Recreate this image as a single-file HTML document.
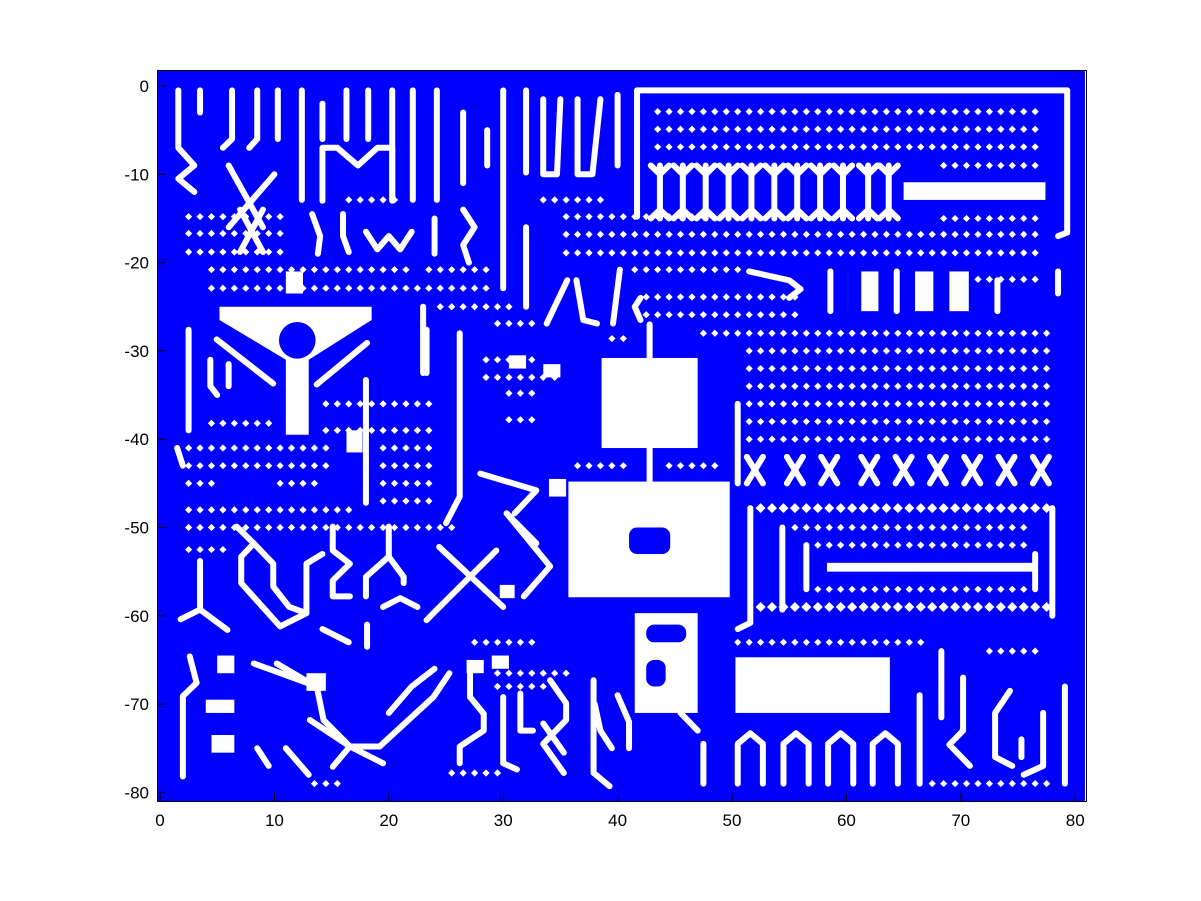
<!DOCTYPE html>
<html><head><meta charset="utf-8"><style>
html,body{margin:0;padding:0;background:#fff;}
svg{display:block;font-family:"Liberation Sans",Arial,sans-serif;}
</style></head><body>
<svg id="chart" width="1201" height="901" viewBox="0 0 1201 901" xmlns="http://www.w3.org/2000/svg">
<rect x="0" y="0" width="1201" height="901" fill="#fff"/>
<g id="plot"></g>
<g id="axes"></g>
</svg>
<script>
// ---- data (grid units: x, depth d where y = -d) ----
const xTicks = [0,10,20,30,40,50,60,70,80];
const yTicks = [0,-10,-20,-30,-40,-50,-60,-70,-80];
const whiteRects = [[38.6,47,30.8,41],[35.7,49.8,44.8,57.9],[50.3,63.8,64.7,71],[65,77.4,10.9,12.9],[58.3,76.3,54,55],
 [41.5,47,59.7,71],[61.3,62.8,21,25.5],[66,67.6,21,25.5],[69,70.7,21,25.5],
 [5,6.5,64.5,66.5],[4,6.5,69.5,71],[4.5,6.5,73.5,75.5],[29,30.5,64.5,66],[16.3,17.7,39,41.5],[33.5,35,31.5,33],
 [30.5,32,30.5,32],[12.8,14.5,66.5,68.5],[26.8,28.3,65,66.5],[29.7,31,56.5,58],[34,35.5,44.5,46.5],[11,12.5,21,23.5]];
const blueHoles = [[41,44.6,50,53],[42.5,46,61,63],[42.5,44.2,65,68]];
const yShape = [[5.2,25],[18.5,25],[18.5,26.5],[13,31],[13,39.5],[11,39.5],[11,31],[5.2,26.5]];
const yHole = [12,28.8,1.6];
const dotRows = [[2.9,43,77],[4.9,43,77],[6.9,43,77],[9,68,77],[15,68,77],[16.8,35,77],[18.9,35,77],[20.8,41,51],[20.8,22.7,28.6],
 [21.9,71,77],[23.9,42,56],[25.9,42,56],[28,47,78],[30,51,78],[32,51,78],[34,51,78],[36,51,78],[38,51,78],[40,51,78],
 [43,44,49],[43,36,40.5],[50,55,76],[52,57,76],[57,57,76],[63,50,66.7],[64,72,77],[79,67,78],
 [12.9,15.7,21],[14.8,2,11],[16.7,2,11],[18.8,2,11],[20.8,4,22],[22.9,4,29.4],[25,23.6,31.2],[12.9,33.2,38.5],[14.8,35,48],
 [26.9,29.4,32.6],[28.6,39.3,41.4],[31,28,33],[33,28,35],[34.8,30,32.5],[37.8,30,33],[36,14,24],[39,13.7,23.8],
 [41,2,15],[43,2,15],[45,2,5],[45,10,14],[41,19.5,23.8],[43,19.5,23.8],[45,19.5,23.8],[47,19.5,23.8],[48,2,17],[50,2,26],
 [52.5,2,6],[63,27,33],[77.8,25,30],[68,29,34],[66.5,29,36],[79,13,16],[38.2,4.4,9.6]];
const bigDotRows = [[47.8,52,78],[59,52,78]];
const barXs = [43.7,45.7,47.7,49.7,51.7,53.7,55.7,57.7,59.7,61.9,63.7];
const bowtieXs = [52,55.5,58.5,62,65,68,71,74,77];
const archXs = [50.5,54.5,58.4,62.3];
const paths = [
 [[1.6,0.5],[1.6,7],[3,9],[1.6,10.5],[3,12]],[[3.5,0.5],[3.5,3]],[[6.3,0.5],[6.3,6],[5.5,7]],[[8.5,0.5],[8.5,6],[7.8,7]],
 [[10.3,0.5],[10.3,6]],[[12.4,0.5],[12.4,12.9]],[[14.2,2],[14.2,6]],[[16.3,0.5],[16.3,6]],[[18.2,0.5],[18.2,6]],
 [[20.3,0.5],[20.3,12.9]],[[22.1,0.5],[22.1,12.9]],[[24.2,0.5],[24.2,12.9]],[[26.5,3],[26.5,11]],[[30,0.5],[30,22.9]],
 [[32,0.5],[32,9.8]],[[33.5,1.5],[33.5,10],[34.7,10],[35,1.5]],[[36.5,1.5],[36.5,10],[37.8,10],[38.5,1.5]],[[40,1],[40,9]],
 [[14.2,13],[14.2,7],[15.5,7],[17.3,9],[19,7],[20.3,7],[20.3,13]],
 [[6,9],[9,16]],[[10,10],[6,16]],[[7,14],[9,18.8]],[[9,14],[7,18.8]],[[13.3,14.5],[14,17],[13.8,19]],[[16,14.5],[16,17],[16.5,18.8]],
 [[18,16.5],[19,18.5],[20,17],[21,18.5],[22,16.5]],[[24,15],[24,19]],[[26.5,14],[27.5,16],[26.5,18],[27,20]],[[28.6,5],[28.6,9]],
 [[32,16],[32,25]],[[23,25],[23,32.5]],[[33.8,26.9],[35.6,22]],[[36.4,22],[37,26.5],[38.2,26.9]],[[40.2,20.8],[39.6,26.9]],
 [[26.2,28],[26.2,46.5],[25,49.5]],[[42.8,27],[42.8,31]],[[42.8,41],[42.8,45]],[[50.5,36],[50.5,45]],
 [[41.7,0.5],[79.3,0.5]],[[41.7,0.5],[41.7,14.8]],[[79.3,0.5],[79.3,16.6],[78.5,17]],
 [[58.6,21],[58.6,25.5]],[[64.4,21],[64.4,25.5]],[[73.2,22],[73.2,25.5]],[[51.5,21],[55,22],[56,23],[55,24]],[[78.5,21],[78.5,23.5]],
 [[51.6,47.8],[51.6,60.8],[50.5,61.5]],[[78,47.8],[78,60]],[[54.4,50],[54.4,59.3]],[[56.5,52],[56.5,57]],[[76.5,53],[76.5,57]],
 [[47.5,74.5],[47.5,79]],[[66.4,69],[66.4,79]],[[68.3,64],[68.3,71.5]],[[70.2,67],[70.2,73],[69,74.6],[70.8,77]],
 [[74.3,68.5],[73,71],[73,76],[74.5,77]],[[77.2,71],[77.2,77],[75.5,78]],[[75.3,74],[75.3,76]],[[79.1,68],[79.1,79]],
 [[45.5,71],[47,73]],[[40,69],[41,72],[41,75]],[[38,70],[38.5,73],[39.5,75]],
 [[3.5,53.8],[3.5,59.3],[5.9,61.6]],[[3.5,59.3],[1.8,60.4]],
 [[6.7,49.9],[8.2,51.8],[7.1,53.3],[7.1,56.3],[10.5,61.2],[12.8,59.7],[12.8,54.1],[14.2,53]],
 [[8.2,51.8],[9.9,54.1],[9.9,56.7],[11.3,59],[12.8,59.7]],
 [[15.1,49.9],[15.1,52.6],[16.6,54.1],[15.1,56],[15.1,57.8],[16.6,57.8]],
 [[20,49.9],[20,53.3],[18,55.6],[18,57.8]],[[20,53.3],[21.3,55.6],[21.3,56.3]],
 [[24.4,52.2],[30,59]],[[29.4,52.6],[23.9,59.7],[23.3,60.5]],
 [[30.3,48.4],[34.1,54.4],[31.8,57.8]],[[30.3,48.4],[32.9,51.8]],[[28,43.9],[32.9,45.8],[31,48.4]],
 [[19.5,59],[21,58],[22.5,59]],[[14.2,61.5],[16.5,63]],[[18.1,61],[18.1,63.5]],
 [[2.6,64.6],[3.2,67.6],[2,69.1],[2,78.2]],[[8.2,65.4],[13.7,68],[14.3,71.8],[16.6,74.8],[19.5,76.7]],[[10.2,65.4],[13.1,67.6]],
 [[13.1,71.8],[16.6,74.8],[19.2,74.8],[23.9,69.2],[25.3,66.5]],
 [[27.1,65.8],[27.1,69.2],[28.3,71.1],[28.3,73],[26.2,74.8],[26.2,76.7]],
 [[30,69.2],[30,76.7],[31.2,77.4]],[[31.5,68.8],[31.5,73],[32.6,73]],
 [[34.1,67.3],[35.5,69.9],[35.5,71.8],[33.5,74.5],[35.3,77.8]],[[33.5,72.2],[35.3,75.5]],[[37.9,67.3],[37.9,77.8],[39.3,79.3]],
 [[15.1,77.1],[16.6,74.8]],[[20,71],[22,68],[24,66]],[[8.5,75],[9.5,77]],[[11,75],[13,78]],
 [[2.5,27.6],[2.5,39]],[[1.5,41],[2,43]],[[4.95,28.7],[9.9,33.7]],[[18.1,29.1],[13.7,33.8]],[[18,33.3],[18,47.2]],
 [[23.3,27.6],[23.3,32.5]],[[4.4,31],[4.4,34],[5,35]],[[6,31.5],[6,34]],[[42,24],[41.5,25],[42,26.5]]
];

// ---- scales ----
const X = v => 160 + 11.44 * v;
const Y = v => 86 - 8.83 * v;      // v = y value (negative)
const D = d => Y(-d);
const NS = 'http://www.w3.org/2000/svg';
const plot = document.getElementById('plot');
const axes = document.getElementById('axes');
function mk(tag, attrs, parent){const e=document.createElementNS(NS,tag);for(const k in attrs)e.setAttribute(k,attrs[k]);parent.appendChild(e);return e;}

// blue field of markers
const field = mk('rect',{x:X(-0.2),y:Y(1.8),width:X(80.85)-X(-0.2),height:Y(-81)-Y(1.8),fill:'#0000ff'},plot);



// white solid regions
whiteRects.forEach(r=>{
  const e=mk('rect',{x:X(r[0]),y:D(r[2]),width:X(r[1])-X(r[0]),height:D(r[3])-D(r[2]),fill:'#fff'},plot);
  
  
});
const ys = mk('polygon',{points:yShape.map(p=>X(p[0])+','+D(p[1])).join(' '),fill:'#fff'},plot);


const yh = mk('circle',{cx:X(yHole[0]),cy:D(yHole[1]),r:yHole[2]*11.44,fill:'#0000ff'},plot);


blueHoles.forEach(r=>{
  const e=mk('rect',{x:X(r[0]),y:D(r[2]),width:X(r[1])-X(r[0]),height:D(r[3])-D(r[2]),fill:'#0000ff',rx:8},plot);
  
  
});

// white lines
function line(pts){
  const e=mk('polyline',{points:pts.map(p=>X(p[0])+','+D(p[1])).join(' '),fill:'none',stroke:'#fff','stroke-width':6,'stroke-linejoin':'round','stroke-linecap':'round'},plot);
  
  
}
paths.forEach(line);
barXs.forEach(x=>{ line([[x,9],[x,15]]); line([[x-0.8,9],[x,10],[x+0.8,9]]); line([[x-0.8,15],[x,14],[x+0.8,15]]); });
bowtieXs.forEach(x=>{ line([[x-0.7,42],[x+0.7,45]]); line([[x+0.7,42],[x-0.7,45]]); });
archXs.forEach(x=>{ line([[x,79],[x,74.5],[x+1.1,73.3],[x+2.2,74.5],[x+2.2,79]]); });

// dotted rows
function dots(rows, size){
  rows.forEach(r=>{
    for(let x=Math.ceil(r[1]-0.5)+0.5; x<=r[2]+0.01; x+=1){
      const cx=X(x), cy=D(r[0]);
      const e=mk('polygon',{points:`${cx},${cy-size} ${cx+size},${cy} ${cx},${cy+size} ${cx-size},${cy}`,fill:'#fff'},plot);
      
      
    }
  });
}
dots(dotRows, 3.6);
dots(bigDotRows, 5);

// axes box
const box = mk('rect',{x:157.5,y:70.5,width:929,height:731,fill:'none',stroke:'#000','stroke-width':1},axes);


xTicks.forEach(t=>{
  const tk=mk('line',{x1:X(t),x2:X(t),y1:801,y2:793,stroke:'#000'},axes);
  
  
  const tx=mk('text',{x:X(t),y:826,'font-size':17,'text-anchor':'middle',fill:'#000'},axes);
  tx.textContent=t;
  
  
});
yTicks.forEach(t=>{
  const tk=mk('line',{x1:158,x2:166,y1:Y(t),y2:Y(t),stroke:'#000'},axes);
  
  
  const tx=mk('text',{x:149,y:Y(t)+6,'font-size':17,'text-anchor':'end',fill:'#000'},axes);
  tx.textContent=t;
  
  
});
</script>
</body></html>
